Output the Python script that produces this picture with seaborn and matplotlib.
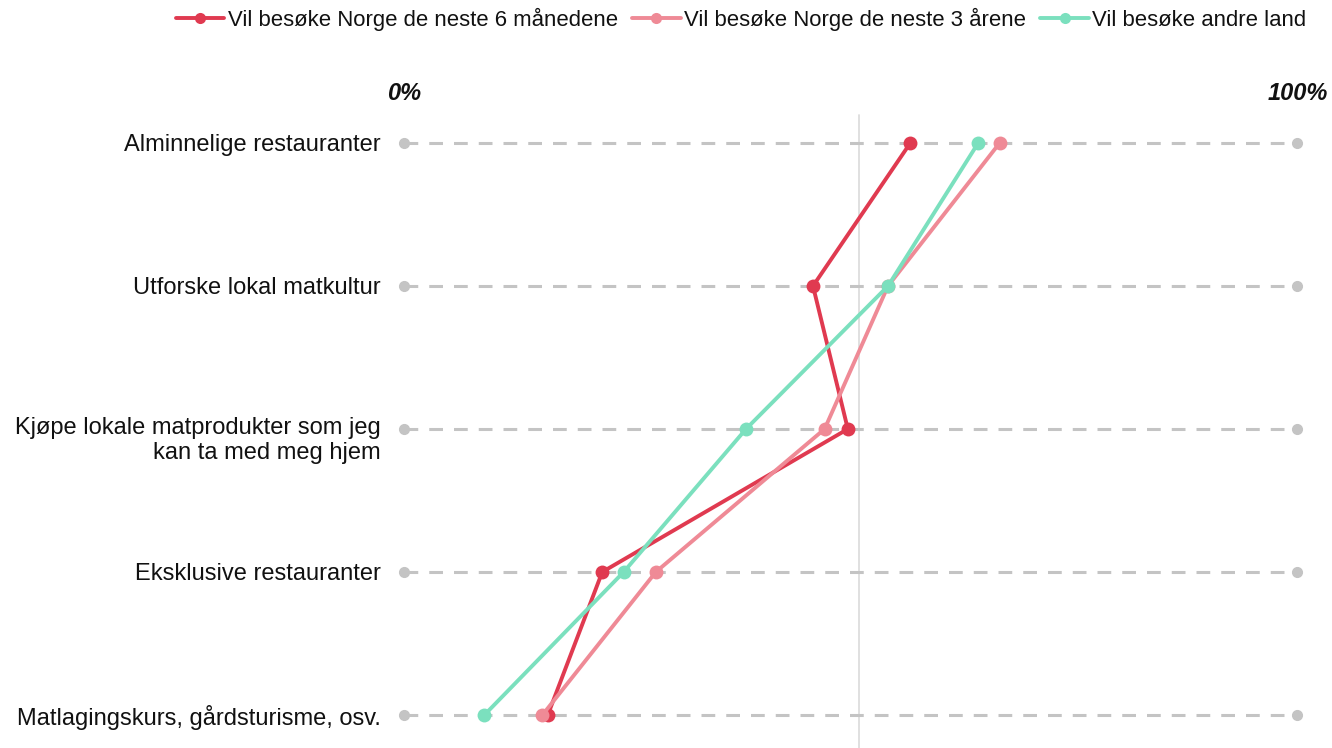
import pandas as pd
import seaborn as sns
import matplotlib.pyplot as plt
from matplotlib.transforms import ScaledTranslation

## values, shares 0-1
categories = [
    "Alminnelige restauranter",
    "Utforske lokal matkultur",
    "Kjøpe lokale matprodukter som jeg\nkan ta med meg hjem",
    "Eksklusive restauranter",
    "Matlagingskurs, gårdsturisme, osv.",
]
series_names = [
    "Vil besøke Norge de neste 6 månedene",
    "Vil besøke Norge de neste 3 årene",
    "Vil besøke andre land",
]
norge_6m = [0.567, 0.458, 0.497, 0.222, 0.161]
norge_3y = [0.667, 0.542, 0.471, 0.282, 0.155]
andre_land = [0.643, 0.542, 0.383, 0.246, 0.090]
reference_line = 0.51
colors = ["#E03A50", "#EF8A96", "#7BE0BE"]

rows = []
for name, vals in zip(series_names, [norge_6m, norge_3y, andre_land]):
    for i, v in enumerate(vals):
        rows.append({"series": name, "pos": i, "value": v})
df = pd.DataFrame(rows)

sns.set_theme(style="white")
plt.rcParams["font.family"] = ["Liberation Sans", "DejaVu Sans"]

fig = plt.figure(figsize=(13.32, 7.48), dpi=100)
ax = fig.add_axes([404 / 1332, 0.0, (1297 - 404) / 1332, 1 - 115 / 748])

# gray dashed guide per category, with end dots
for i in range(len(categories)):
    ax.plot([0, 1], [i, i], color="#C4C4C4", lw=2.2, ls=(0, (4.5, 3.6)),
            zorder=1, clip_on=False)
    ax.plot([0, 1], [i, i], color="#C4C4C4", lw=0, marker="o", ms=7,
            zorder=1, clip_on=False)

ax.axvline(reference_line, color="#DDDDDD", lw=1.3, zorder=0.5)

sns.lineplot(data=df, x="value", y="pos", hue="series", hue_order=series_names,
             palette=dict(zip(series_names, colors)), sort=False, orient="y",
             marker="o", markersize=10, markeredgewidth=0, linewidth=2.8,
             ax=ax, zorder=3)
for ln in ax.lines:
    ln.set_clip_on(False)

ax.set_xlim(0, 1)
ax.set_ylim(4 + 33 / 143, -28 / 143)
ax.set_xticks([])
ax.set_yticks(range(len(categories)))
ax.set_yticklabels(categories, fontsize=17, color="#111111")
ax.tick_params(axis="y", length=0, pad=17)
for lab in ax.get_yticklabels():
    if "\n" in lab.get_text():
        lab.set_verticalalignment("top")
        lab.set_linespacing(1.2)
        lab.set_transform(lab.get_transform() + ScaledTranslation(0, 8.9 / 72, fig.dpi_scale_trans))
ax.set_xlabel("")
ax.set_ylabel("")
sns.despine(ax=ax, left=True, bottom=True)

fig.text(404 / 1332, 1 - 93 / 748, "0%", ha="center", va="center",
         fontsize=17, fontweight="bold", fontstyle="italic", color="#111111")
fig.text(1298 / 1332, 1 - 93 / 748, "100%", ha="center", va="center",
         fontsize=17, fontweight="bold", fontstyle="italic", color="#111111")

handles, labels = ax.get_legend_handles_labels()
ax.get_legend().remove()
for h in handles:
    h.set_markersize(8)
fig.legend(handles, labels, loc="center", bbox_to_anchor=(741 / 1332, 1 - 19 / 748),
           ncol=3, frameon=False, fontsize=15.9, handlelength=2.2,
           handletextpad=0.15, columnspacing=0.65, labelcolor="#111111")

fig.savefig("out.png", dpi=100)
